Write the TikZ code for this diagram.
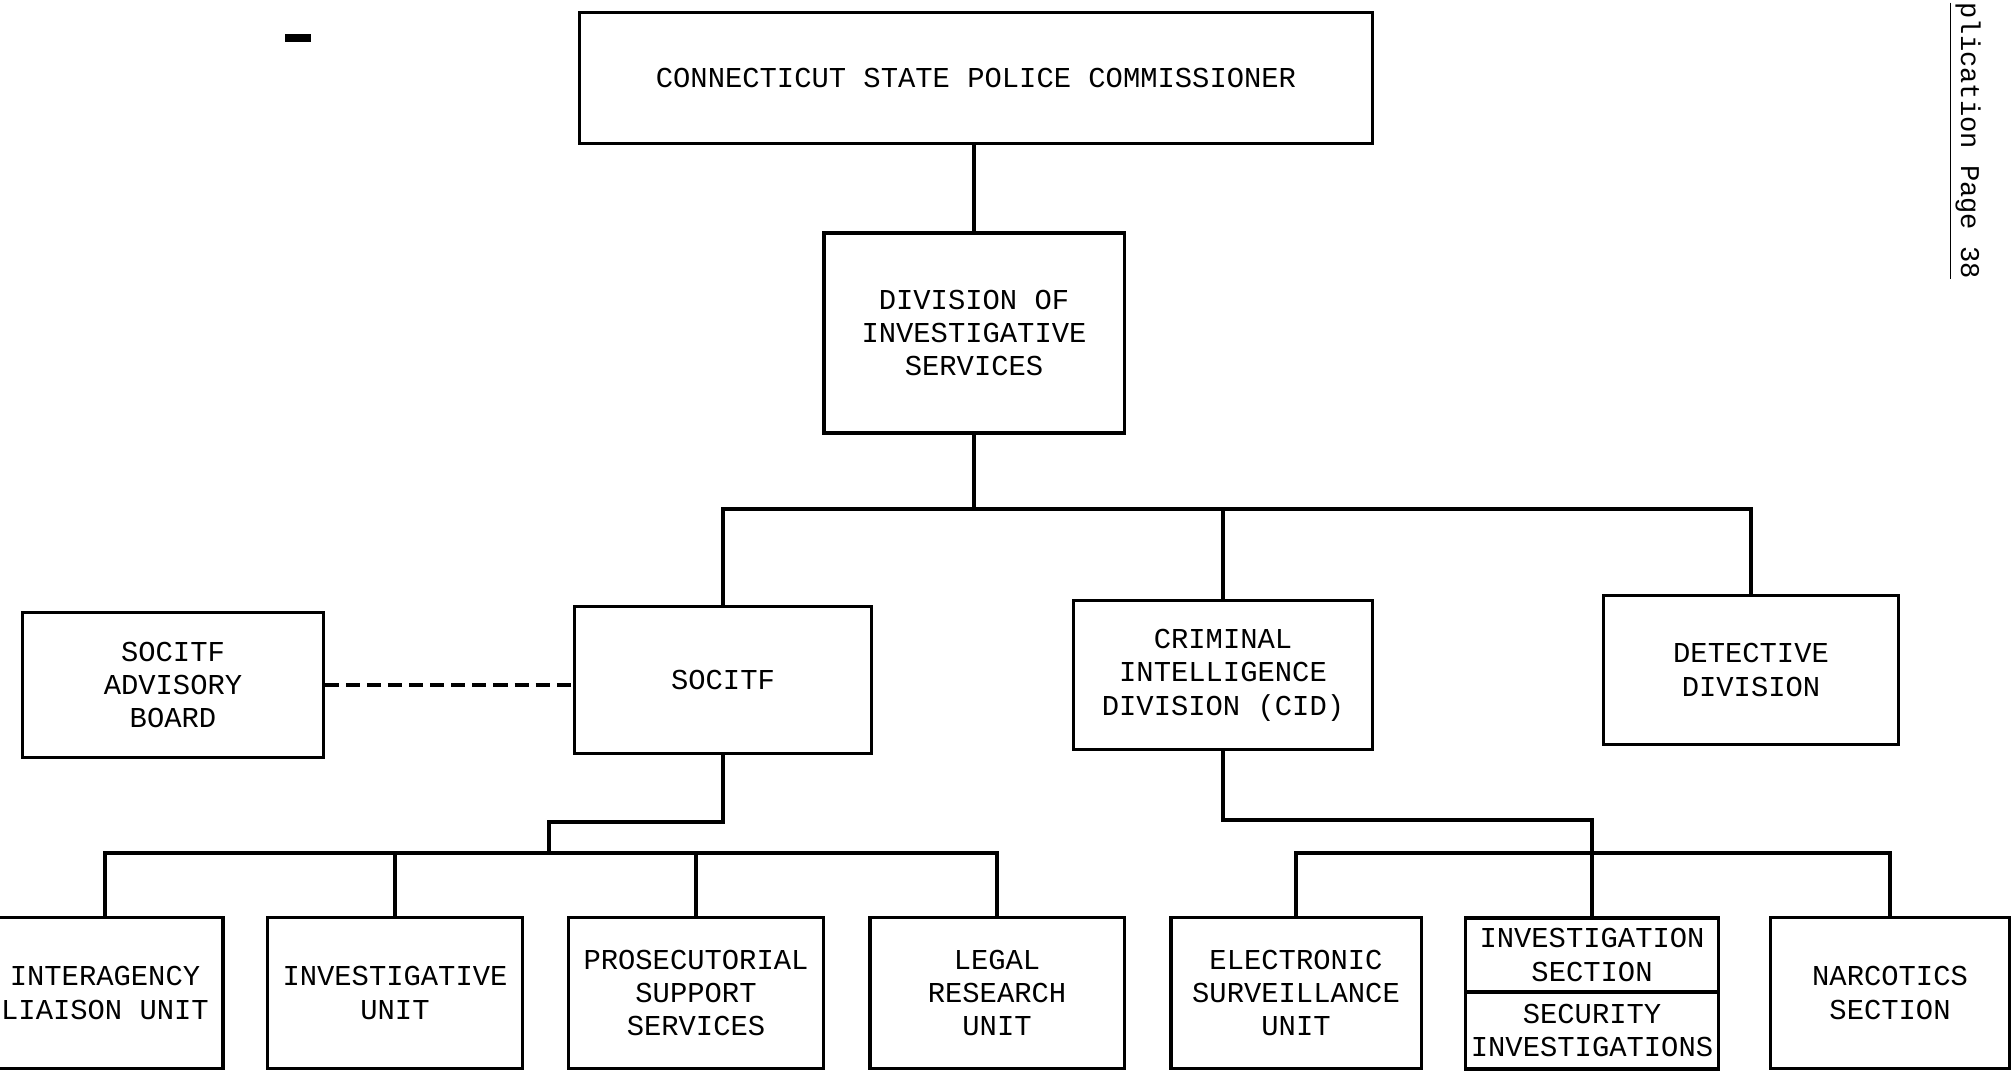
\documentclass[tikz,border=0pt]{standalone}
\usepackage{fontspec}
\setmainfont{Liberation Mono}
\tikzset{
    orgbox/.style={rectangle, draw, line width=0.9pt, align=center, inner sep=2pt,
        font=\fontsize{8.2}{9.5}\selectfont},
    link/.style={line width=0.9pt},
}
\begin{document}
\begin{tikzpicture}[x=0.01cm, y=-0.01cm]
        \useasboundingbox (0,0) rectangle (2015,1078);
        % top of the chart
        \node[orgbox, minimum width=7.93cm, minimum height=1.31cm] (comm) at (976,78) {CONNECTICUT STATE POLICE COMMISSIONER};
        \node[orgbox, minimum width=3cm, minimum height=2cm] (div) at (974,333) {DIVISION OF\\INVESTIGATIVE\\SERVICES};
        % second level
        \node[orgbox, minimum width=3cm, minimum height=1.45cm] (advisory) at (173,685) {SOCITF\\ADVISORY\\BOARD};
        \node[orgbox, minimum width=2.97cm, minimum height=1.47cm] (socitf) at (723,680) {SOCITF};
        \node[orgbox, minimum width=2.99cm, minimum height=1.49cm] (cid) at (1223,675) {CRIMINAL\\INTELLIGENCE\\DIVISION (CID)};
        \node[orgbox, minimum width=2.95cm, minimum height=1.49cm] (detective) at (1751,670) {DETECTIVE\\DIVISION};
        % units under SOCITF
        \node[orgbox, minimum width=2.36cm, minimum height=1.51cm] (liaison) at (105,993) {INTERAGENCY\\LIAISON UNIT};
        \node[orgbox, minimum width=2.55cm, minimum height=1.51cm] (invunit) at (395,993) {INVESTIGATIVE\\UNIT};
        \node[orgbox, minimum width=2.55cm, minimum height=1.51cm] (prosec) at (696,993) {PROSECUTORIAL\\SUPPORT\\SERVICES};
        \node[orgbox, minimum width=2.54cm, minimum height=1.51cm] (legal) at (997,993) {LEGAL\\RESEARCH\\UNIT};
        % sections under CID
        \node[orgbox, minimum width=2.5cm, minimum height=1.51cm] (elec) at (1296,993) {ELECTRONIC\\SURVEILLANCE\\UNIT};
        \node[orgbox, inner sep=1pt, minimum width=2.53cm, minimum height=0.74cm] (invsec) at (1592,955) {INVESTIGATION\\SECTION};
        \node[orgbox, inner sep=1pt, minimum width=2.53cm, minimum height=0.77cm] (secinv) at (1592,1030.5) {SECURITY\\INVESTIGATIONS};
        \node[orgbox, minimum width=2.39cm, minimum height=1.51cm] (narc) at (1890,993) {NARCOTICS\\SECTION};
        % page mark
        \node[rotate=-90, anchor=base west, inner sep=0pt, font=\fontsize{7.7}{9}\selectfont] (pagemark) at (1961,2) {\underline{plication Page 38}};
        \draw[line width=2pt] (285,38) -- (311,38);
        % connectors
        \coordinate (topbar) at (974,509);
        \coordinate (sockink) at (549,822);
        \coordinate (sobar) at (549,853);
        \coordinate (cidkink) at (1592,820);
        \coordinate (cidbar) at (1592,853);
        \draw[link] (div.north |- comm.south) -- (div.north);
        \draw[link] (div) -- (topbar);
        \draw[link] (socitf.north) |- (topbar) -| (detective.north);
        \draw[link] (cid.north) -- (cid.north |- topbar);
        \draw[line width=1.3pt, dash pattern=on 4pt off 2pt] (advisory.east) -- (advisory.east -| socitf.west);
        \draw[link] (socitf.south) |- (sockink) -- (sobar);
        \draw[link] (liaison.north) |- (sobar) -| (legal.north);
        \draw[link] (invunit.north) -- (invunit.north |- sobar);
        \draw[link] (prosec.north) -- (prosec.north |- sobar);
        \draw[link] (cid.south) |- (cidkink) -- (invsec.north);
        \draw[link] (elec.north) |- (cidbar) -| (narc.north);
    \end{tikzpicture}
\end{document}
